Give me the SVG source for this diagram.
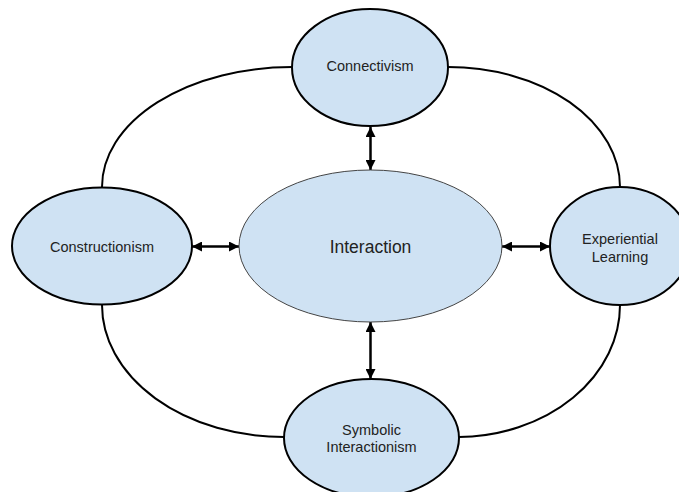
<svg xmlns="http://www.w3.org/2000/svg" width="679" height="492" viewBox="0 0 679 492">
  <defs>
    <marker id="head" viewBox="0 0 10 10" refX="10" refY="5" markerWidth="10" markerHeight="10" markerUnits="userSpaceOnUse" orient="auto-start-reverse">
      <path d="M0,0 L10,5 L0,10 Z" fill="#000"/>
    </marker>
  </defs>
  <style>
    .node { fill: #cfe2f3; stroke: #000; stroke-width: 2; }
    .hub { fill: #cfe2f3; stroke: #444; stroke-width: 1; }
    .ring { fill: none; stroke: #000; stroke-width: 2; }
    .link { fill: none; stroke: #000; stroke-width: 2.5; marker-start: url(#head); marker-end: url(#head); }
    text { font-family: "Liberation Sans", Arial, sans-serif; font-size: 14.5px; fill: #222; text-anchor: middle; }
    .big { font-size: 17.5px; }
  </style>
  <rect width="679" height="492" fill="#fff"/>

  <!-- outer ring joining the four perspectives -->
  <g id="connectors">
    <path class="ring" d="M102,187 A190,120 0 0 1 292,67"/>
    <path class="ring" d="M448,67 A172,120 0 0 1 620,187"/>
    <path class="ring" d="M102,305 A182,132 0 0 0 284,437"/>
    <path class="ring" d="M620,305 A163,132 0 0 1 459,437"/>
    <!-- two-way links to the centre -->
    <line class="link" x1="370.5" y1="127" x2="370.5" y2="170"/>
    <line class="link" x1="192" y1="246.5" x2="239" y2="246.5"/>
    <line class="link" x1="502" y1="246.5" x2="550" y2="246.5"/>
    <line class="link" x1="370.5" y1="322" x2="370.5" y2="379"/>
  </g>

  <g id="interaction">
    <ellipse class="hub" cx="370.5" cy="246" rx="131.5" ry="76"/>
    <text class="big" x="370.5" y="253">Interaction</text>
  </g>

  <g id="connectivism">
    <ellipse class="node" cx="370" cy="67.5" rx="78" ry="58.5"/>
    <text x="370" y="71">Connectivism</text>
  </g>

  <g id="constructionism">
    <ellipse class="node" cx="102" cy="246" rx="90" ry="58.5"/>
    <text x="102" y="252">Constructionism</text>
  </g>

  <g id="experiential-learning">
    <ellipse class="node" cx="620" cy="246" rx="70" ry="59"/>
    <text x="620" y="244">Experiential</text>
    <text x="620" y="262">Learning</text>
  </g>

  <g id="symbolic-interactionism">
    <ellipse class="node" cx="371.5" cy="438" rx="87.5" ry="59"/>
    <text x="371.5" y="435">Symbolic</text>
    <text x="371.5" y="452">Interactionism</text>
  </g>
</svg>
